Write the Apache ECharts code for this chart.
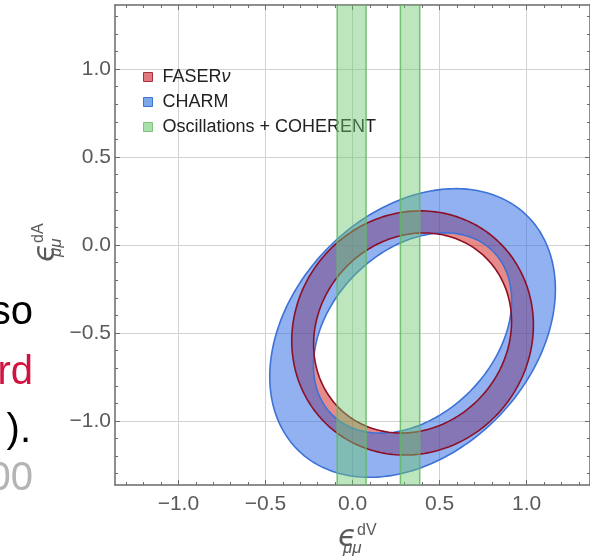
<!DOCTYPE html>
<html>
<head>
<meta charset="utf-8">
<script src="https://cdn.jsdelivr.net/npm/echarts@6/dist/echarts.min.js"></script>
<style>
  html, body { margin: 0; padding: 0; background: #ffffff; }
  #chart { width: 590px; height: 557px; }
</style>
</head>
<body>
<div id="chart"></div>
<script>
// Plot window in (eps_dV, eps_dA)
const axisMin = -1.364;
const axisMax = 1.364;
const majorTicks = [-1.0, -0.5, 0.0, 0.5, 1.0];
const minorTicks = [-1.3, -1.2, -1.1, -0.9, -0.8, -0.7, -0.6, -0.4, -0.3, -0.2, -0.1,
                    0.1, 0.2, 0.3, 0.4, 0.6, 0.7, 0.8, 0.9, 1.1, 1.2, 1.3];

// Allowed rings: centre x, centre y, outer semi-axes (diagonal, anti-diagonal), inner semi-axes
const faserRing = [0.345, -0.5, 0.716, 0.671, 0.600, 0.535];
const charmRing = [0.345, -0.5, 0.936, 0.685, 0.655, 0.468];
const ringTiltDeg = 45;

// Oscillations + COHERENT allowed strips in eps_dV
const oscBands = [[-0.088, 0.078], [0.275, 0.386]];

const seriesNames = ['FASERν', 'CHARM', 'Oscillations + COHERENT'];

const RED_FILL = 'rgba(205, 10, 10, 0.48)';
const RED_EDGE = '#8e0f24';
const BLUE_FILL = 'rgba(35, 100, 225, 0.50)';
const BLUE_EDGE = '#3d72d6';
const GREEN_FILL = 'rgba(110, 200, 110, 0.45)';
const GREEN_EDGE = 'rgba(95, 185, 95, 0.85)';

function ellipseData(cx, cy, a, b, n) {
  const th = ringTiltDeg * Math.PI / 180;
  const c = Math.cos(th), s = Math.sin(th);
  const pts = [];
  for (let k = 0; k < n; k++) {
    const t = 2 * Math.PI * k / n;
    const u = a * Math.cos(t), v = b * Math.sin(t);
    pts.push([cx + u * c - v * s, cy + u * s + v * c]);
  }
  return pts;
}

function toPath(api, pts, reverse) {
  const list = reverse ? pts.slice().reverse() : pts;
  let d = '';
  list.forEach(function (p, i) {
    const q = api.coord(p);
    d += (i === 0 ? 'M' : 'L') + q[0].toFixed(2) + ' ' + q[1].toFixed(2) + ' ';
  });
  return d + 'Z ';
}

function ringFill(color) {
  return function (params, api) {
    const cx = api.value(0), cy = api.value(1);
    const outer = ellipseData(cx, cy, api.value(2), api.value(3), 240);
    const inner = ellipseData(cx, cy, api.value(4), api.value(5), 240);
    return {
      type: 'path',
      shape: { pathData: toPath(api, outer, false) + toPath(api, inner, true) },
      style: { fill: color, stroke: null }
    };
  };
}

function ringEdges(color) {
  return function (params, api) {
    const cx = api.value(0), cy = api.value(1);
    const outer = ellipseData(cx, cy, api.value(2), api.value(3), 240);
    const inner = ellipseData(cx, cy, api.value(4), api.value(5), 240);
    return {
      type: 'group',
      children: [outer, inner].map(function (pts) {
        return {
          type: 'polygon',
          shape: { points: pts.map(function (p) { return api.coord(p); }) },
          style: { fill: null, stroke: color, lineWidth: 1.6 }
        };
      })
    };
  };
}

function bandItem(params, api) {
  const p0 = api.coord([api.value(0), axisMax]);
  const p1 = api.coord([api.value(1), axisMin]);
  return {
    type: 'group',
    children: [
      { type: 'rect', shape: { x: p0[0], y: p0[1], width: p1[0] - p0[0], height: p1[1] - p0[1] },
        style: { fill: GREEN_FILL } },
      { type: 'line', shape: { x1: p0[0], y1: p0[1], x2: p0[0], y2: p1[1] },
        style: { stroke: GREEN_EDGE, lineWidth: 1.5 } },
      { type: 'line', shape: { x1: p1[0], y1: p0[1], x2: p1[0], y2: p1[1] },
        style: { stroke: GREEN_EDGE, lineWidth: 1.5 } }
    ]
  };
}

const FRAME = '#6a6a6a';
const LABEL = '#5a5a5a';
const fmt = function (v) {
  const s = Math.abs(v).toFixed(1);
  return v < -1e-9 ? '\u2212' + s : s;
};

function frameAxis(position, ticks, len, withLine, withLabel, withGrid) {
  return {
    type: 'value', position: position, min: axisMin, max: axisMax,
    axisLine: { show: withLine, onZero: false, lineStyle: { color: FRAME, width: 1.5 } },
    axisTick: { show: true, inside: true, length: len, customValues: ticks,
                lineStyle: { color: FRAME, width: 1 } },
    axisLabel: { show: withLabel, customValues: ticks, formatter: fmt, color: LABEL,
                 fontSize: 21, fontFamily: 'Liberation Sans', margin: position === 'bottom' ? 9 : 4 },
    splitLine: { show: withGrid, lineStyle: { color: '#d2d2d2', width: 1 } },
    minorTick: { show: false }
  };
}

const chart = echarts.init(document.getElementById('chart'), null, { renderer: 'canvas' });

chart.setOption({
  animation: false,
  backgroundColor: '#ffffff',
  grid: { left: 115, top: 5, width: 480, height: 480 },
  xAxis: [
    frameAxis('bottom', majorTicks, 5, true, true, true),
    frameAxis('bottom', minorTicks, 3, false, false, false),
    frameAxis('top', majorTicks, 5, true, false, false),
    frameAxis('top', minorTicks, 3, false, false, false)
  ],
  yAxis: [
    frameAxis('left', majorTicks, 5, true, true, true),
    frameAxis('left', minorTicks, 3, false, false, false),
    frameAxis('right', majorTicks, 5, true, false, false),
    frameAxis('right', minorTicks, 3, false, false, false)
  ],
  legend: {
    orient: 'vertical', left: 143, top: 68, itemGap: 7, padding: 0,
    itemWidth: 9, itemHeight: 9, icon: 'rect', selectedMode: false,
    data: [
      { name: seriesNames[0], itemStyle: { color: '#e07a7e', borderColor: '#a8323c', borderWidth: 1 } },
      { name: seriesNames[1], itemStyle: { color: '#7ea6ea', borderColor: '#3d72d6', borderWidth: 1 } },
      { name: seriesNames[2], itemStyle: { color: '#a9dfa9', borderColor: '#7cc47c', borderWidth: 1 } }
    ],
    formatter: function (name) {
      return name === seriesNames[0] ? '{n|FASER}{i|ν}' : '{n|' + name + '}';
    },
    textStyle: {
      color: '#222222', fontSize: 18, fontFamily: 'Liberation Sans', lineHeight: 18, padding: [0, 0, 0, 5],
      rich: {
        n: { fontSize: 18, fontFamily: 'Liberation Sans', color: '#222222', lineHeight: 18 },
        i: { fontSize: 18, fontFamily: 'Liberation Sans', fontStyle: 'italic', color: '#222222', lineHeight: 18 }
      }
    }
  },
  series: [
    { type: 'custom', name: seriesNames[0], z: 2, clip: true, renderItem: ringFill(RED_FILL),
      data: [faserRing], itemStyle: { color: '#e07a7e' } },
    { type: 'custom', name: seriesNames[1], z: 3, clip: true, renderItem: ringFill(BLUE_FILL),
      data: [charmRing], itemStyle: { color: '#7ea6ea' } },
    { type: 'custom', name: 'CHARM boundary', z: 4, clip: true, renderItem: ringEdges(BLUE_EDGE),
      data: [charmRing] },
    { type: 'custom', name: 'FASERν boundary', z: 5, clip: true, renderItem: ringEdges(RED_EDGE),
      data: [faserRing] },
    { type: 'custom', name: seriesNames[2], z: 6, clip: true, renderItem: bandItem,
      data: oscBands, itemStyle: { color: '#a9dfa9' } }
  ],
  graphic: [
    // x-axis title
    { type: 'group', x: 338, y: 538, silent: true, children: [
      { type: 'text', x: 0, y: 0, style: { text: 'ϵ', fontSize: 30, fontStyle: 'italic',
        fontFamily: 'DejaVu Sans', fill: LABEL, verticalAlign: 'middle', align: 'left' } },
      { type: 'text', x: 19, y: -7, style: { text: 'dV', fontSize: 16,
        fontFamily: 'Liberation Sans', fill: LABEL, verticalAlign: 'middle', align: 'left' } },
      { type: 'text', x: 5, y: 10, style: { text: 'μμ', fontSize: 17, fontStyle: 'italic',
        fontFamily: 'Liberation Sans', fill: LABEL, verticalAlign: 'middle', align: 'left' } }
    ] },
    // y-axis title
    { type: 'group', x: 46, y: 262, rotation: Math.PI / 2, silent: true, children: [
      { type: 'text', x: 0, y: 0, style: { text: 'ϵ', fontSize: 30, fontStyle: 'italic',
        fontFamily: 'DejaVu Sans', fill: LABEL, verticalAlign: 'middle', align: 'left' } },
      { type: 'text', x: 19, y: -7, style: { text: 'dA', fontSize: 16,
        fontFamily: 'Liberation Sans', fill: LABEL, verticalAlign: 'middle', align: 'left' } },
      { type: 'text', x: 5, y: 10, style: { text: 'μμ', fontSize: 17, fontStyle: 'italic',
        fontFamily: 'Liberation Sans', fill: LABEL, verticalAlign: 'middle', align: 'left' } }
    ] },
    // slide text running off the left edge
    { type: 'text', x: 33, y: 313, style: { text: 'so', fontSize: 40, fontFamily: 'Liberation Sans',
      fill: '#000000', align: 'right', verticalAlign: 'middle' } },
    { type: 'text', x: 33, y: 373, style: { text: 'rd', fontSize: 40, fontFamily: 'Liberation Sans',
      fill: '#d0143f', align: 'right', verticalAlign: 'middle' } },
    { type: 'text', x: 31, y: 431, style: { text: ').', fontSize: 40, fontFamily: 'Liberation Sans',
      fill: '#000000', align: 'right', verticalAlign: 'middle' } },
    { type: 'text', x: 33, y: 479, style: { text: '00', fontSize: 40, fontFamily: 'Liberation Sans',
      fill: '#b4b4b4', align: 'right', verticalAlign: 'middle' } }
  ]
});
</script>
</body>
</html>
